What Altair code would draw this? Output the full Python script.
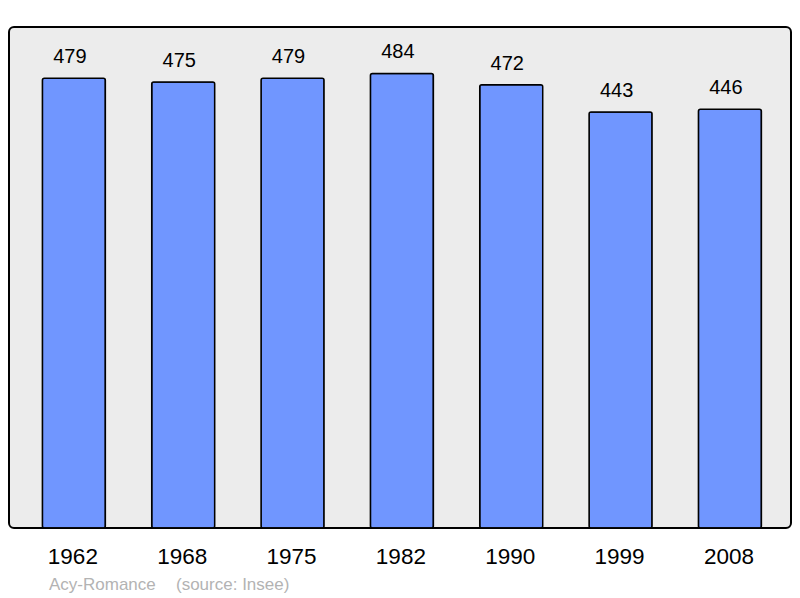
import altair as alt
import pandas as pd

years = ["1962", "1968", "1975", "1982", "1990", "1999", "2008"]
population = [479, 475, 479, 484, 472, 443, 446]
place = "Acy-Romance"
source = "(source: Insee)"

df = pd.DataFrame({"year": years, "pop": population})
FONT = "Liberation Sans"

x = alt.X("year:N", sort=years, axis=None,
          scale=alt.Scale(paddingInner=0.424, paddingOuter=0.288, align=0.53))
y = alt.Y("pop:Q", axis=None, scale=alt.Scale(domain=[0, 533.5], nice=False))

bars = alt.Chart(df).mark_bar(
    color="#7096ff", stroke="#000000", strokeWidth=1.5,
    cornerRadius=2
).encode(x=x, y=y)

values = alt.Chart(df).mark_text(
    font=FONT, fontSize=20, baseline="alphabetic", dy=-15, dx=-4, color="#000000"
).encode(x=x, y=y, text="pop:Q")

year_labels = alt.Chart(df).mark_text(
    font=FONT, fontSize=22.5, baseline="alphabetic", dx=-1, color="#000000"
).encode(x=x, y=alt.value(537), text="year:N")

src1 = alt.Chart(pd.DataFrame({"t": [place]})).mark_text(
    font=FONT, fontSize=17, align="left", baseline="alphabetic", color="#b3b3b3"
).encode(x=alt.value(40), y=alt.value(563), text="t:N")

src2 = alt.Chart(pd.DataFrame({"t": [source]})).mark_text(
    font=FONT, fontSize=17, align="left", baseline="alphabetic", color="#b3b3b3"
).encode(x=alt.value(167), y=alt.value(563), text="t:N")

chart = alt.layer(bars, values, year_labels, src1, src2).properties(
    width=782, height=501,
    autosize=alt.AutoSizeParams(type="none"),
    padding={"left": 1, "top": 19, "right": 1, "bottom": 70},
    background="#ffffff",
).configure_view(
    fill="#ececec", stroke="#000000", strokeWidth=2, cornerRadius=5
)

chart.save("out.html", embed_options={"renderer": "svg", "actions": False})
